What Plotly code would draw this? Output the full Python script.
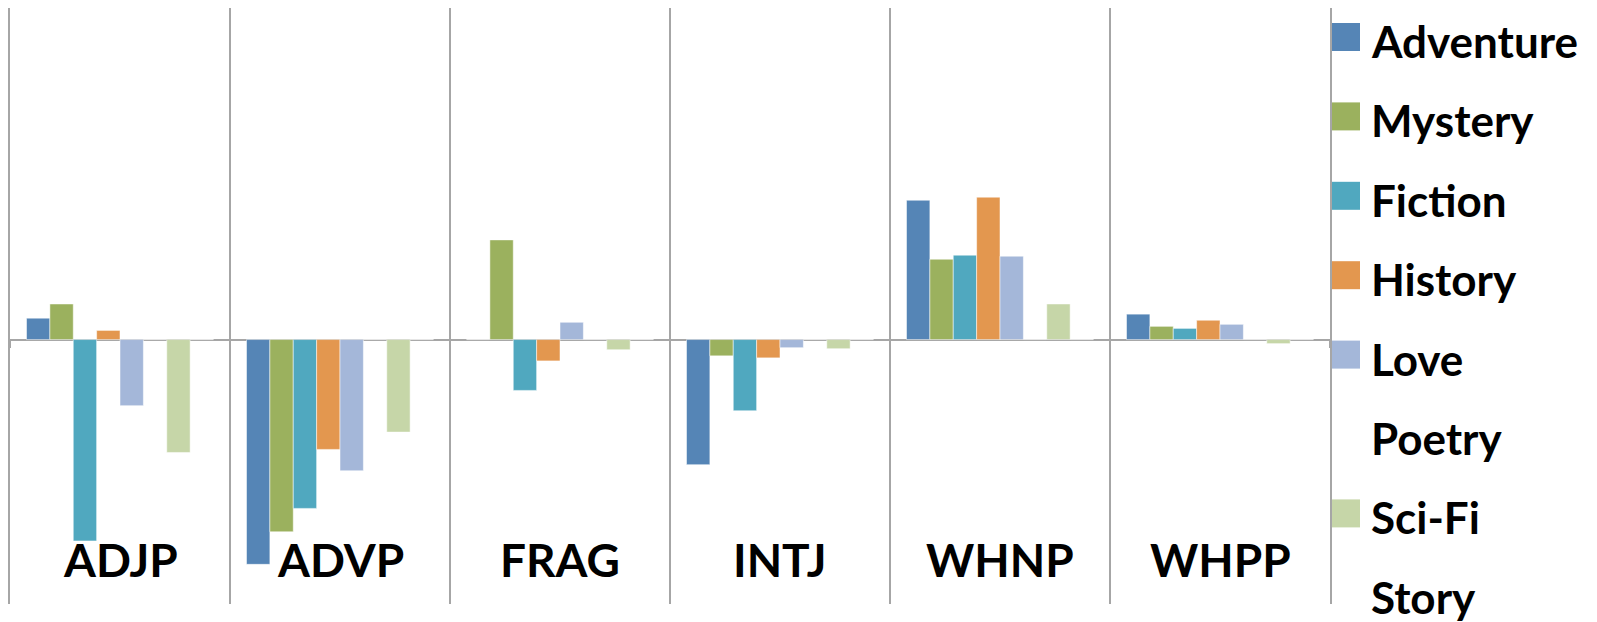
import plotly.graph_objects as go

categories = ["ADJP", "ADVP", "FRAG", "INTJ", "WHNP", "WHPP"]
series_names = ["Adventure", "Mystery", "Fiction", "History", "Love", "Poetry", "Sci-Fi", "Story"]

adventure = [0.21, -2.21, 0.00, -1.23, 1.37, 0.25]
mystery = [0.35, -1.89, 0.98, -0.16, 0.79, 0.13]
fiction = [-1.98, -1.66, -0.50, -0.70, 0.83, 0.11]
history = [0.09, -1.08, -0.21, -0.18, 1.40, 0.19]
love = [-0.65, -1.29, 0.17, -0.08, 0.82, 0.15]
poetry = [0, 0, 0, 0, 0, 0]
scifi = [-1.11, -0.91, -0.10, -0.09, 0.35, -0.04]
story = [0, 0, 0, 0, 0, 0]

series_values = [adventure, mystery, fiction, history, love, poetry, scifi, story]
colors = ["#5585B6", "#9BB15E", "#50A8BF", "#E3974F", "#A4B7D9",
          "rgba(0,0,0,0)", "#C6D6A8", "rgba(0,0,0,0)"]

GRID = "#A6A6A6"
FONT = "Lato"
Y_RANGE = [-2.60, 3.26]

fig = go.Figure()
for name, vals, col in zip(series_names, series_values, colors):
    fig.add_trace(go.Bar(
        x=categories, y=vals, name=name,
        marker=dict(color=col, line=dict(color="rgba(255,255,255,0.5)", width=1)),
        showlegend=False,
    ))

annotations = []
for c in categories:
    annotations.append(dict(
        x=c, xref="x", y=0.075, yref="paper", text=c, showarrow=False,
        xanchor="center", yanchor="middle",
        font=dict(family=FONT, size=46, color="black", weight="bold"),
    ))

# page body has an 8px margin, so figure coords = screen coords - 8
OFF = 8
W, H = 1597 - OFF, 622 - OFF
plot_left, plot_right, plot_top, plot_bottom = 10 - OFF, 1330 - OFF, 0, 604 - OFF
pw = plot_right - plot_left
ph = plot_bottom - plot_top

shapes = []
first_center = 41 - OFF
step = 79.4
for i, (name, col) in enumerate(zip(series_names, colors)):
    yc = first_center + i * step
    sy0 = (plot_bottom - (yc - 4 + 14)) / ph
    sy1 = (plot_bottom - (yc - 4 - 14)) / ph
    shapes.append(dict(
        type="rect", xref="paper", yref="paper",
        x0=(1332 - OFF - plot_left) / pw, x1=(1360 - OFF - plot_left) / pw,
        y0=sy0, y1=sy1, fillcolor=col, line=dict(width=0), layer="above",
    ))
    annotations.append(dict(
        x=(1369 - OFF - plot_left) / pw, xref="paper",
        y=(plot_bottom - yc) / ph, yref="paper",
        text=name, showarrow=False, xanchor="left", yanchor="middle",
        font=dict(family=FONT, size=44, color="black", weight="bold"),
    ))

zero_pos = (0 - Y_RANGE[0]) / (Y_RANGE[1] - Y_RANGE[0])

fig.update_layout(
    width=W, height=H,
    margin=dict(l=plot_left, r=W - plot_right, t=plot_top, b=H - plot_bottom, pad=0),
    paper_bgcolor="white", plot_bgcolor="white",
    barmode="group", bargap=0.15, bargroupgap=0,
    showlegend=False,
    annotations=annotations, shapes=shapes,
    xaxis=dict(type="category", tickson="boundaries", showgrid=True,
               gridcolor=GRID, gridwidth=2, showticklabels=False,
               ticks="outside", ticklen=7, tickwidth=2, tickcolor=GRID,
               anchor="free", position=zero_pos,
               showline=False, zeroline=False, range=[-0.5, 5.5]),
    yaxis=dict(range=Y_RANGE, showgrid=False, zeroline=True,
               zerolinecolor=GRID, zerolinewidth=2, showticklabels=False,
               ticks="", showline=True, mirror=True, linecolor=GRID, linewidth=2),
)

fig.write_html("out.html")
